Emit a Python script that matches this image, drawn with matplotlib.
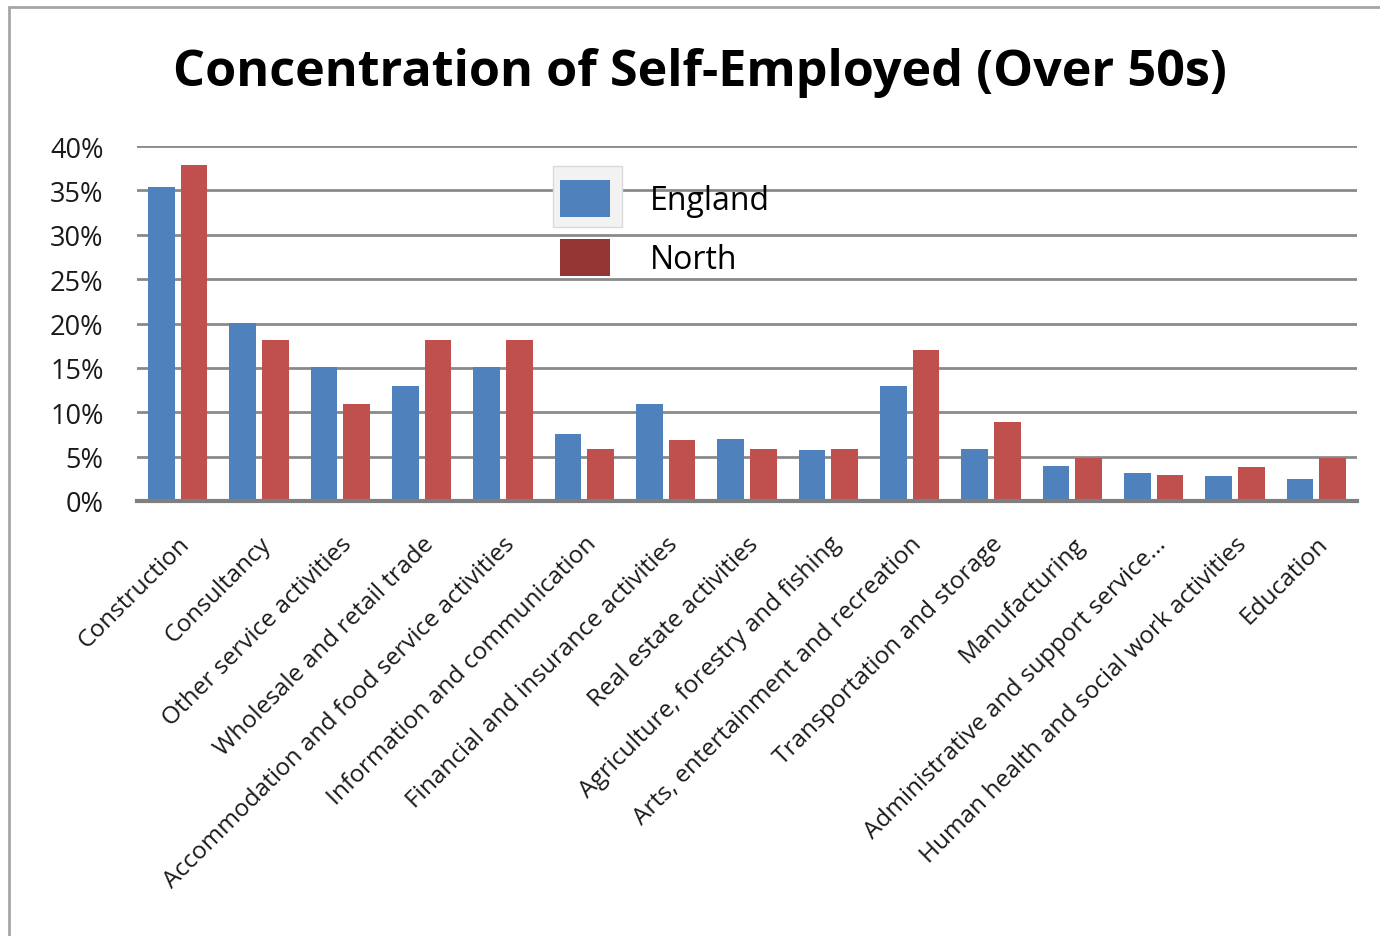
import matplotlib
matplotlib.use("Agg")
import matplotlib.pyplot as plt
from matplotlib.patches import Patch, Rectangle
import numpy as np

categories = [
    "Construction", "Consultancy", "Other service activities",
    "Wholesale and retail trade", "Accommodation and food service activities",
    "Information and communication", "Financial and insurance activities",
    "Real estate activities", "Agriculture, forestry and fishing",
    "Arts, entertainment and recreation", "Transportation and storage",
    "Manufacturing", "Administrative and support service...",
    "Human health and social work activities", "Education",
]
england = [35.4, 20.1, 15.1, 13.0, 15.1, 7.6, 10.9, 7.0, 5.8, 13.0, 5.9, 4.0, 3.2, 2.8, 2.5]
north = [37.9, 18.1, 10.9, 18.1, 18.1, 5.9, 6.9, 5.9, 5.9, 17.0, 8.9, 4.9, 2.9, 3.8, 4.9]
yticks = [0, 5, 10, 15, 20, 25, 30, 35, 40]
ytick_labels = ["0%", "5%", "10%", "15%", "20%", "25%", "30%", "35%", "40%"]
series_names = ["England", "North"]

plt.rcParams['font.family'] = ['Open Sans', 'DejaVu Sans']

W, H = 1380, 937
fig = plt.figure(figsize=(W / 100, H / 100), dpi=100)
fig.patch.set_facecolor("white")

# outer chart frame (left and top visible)
fig.patches.append(Rectangle((9 / W, -0.05), 1.2, 1 - 8 / H + 0.05,
                             transform=fig.transFigure, fill=False,
                             edgecolor="#a6a6a6", linewidth=2, clip_on=False))

ax = fig.add_axes([137 / W, (H - 502) / H, (1357 - 137) / W, (502 - 147) / H])

x = np.arange(len(categories))
bw = 0.33
blue = "#4F81BD"
red = "#C0504D"
ax.bar(x - 0.2, england, bw, color=blue, zorder=3)
ax.bar(x + 0.2, north, bw, color=red, zorder=3)

ax.set_xlim(-0.5, len(categories) - 0.5)
ax.set_ylim(0, 40)
ax.set_yticks(yticks)
ax.set_yticklabels(ytick_labels, fontsize=19.5, color="#1a1a1a")
ax.yaxis.grid(True, color="#8a8a8a", linewidth=2, zorder=0)
ax.tick_params(axis="y", length=0, pad=24)
ax.tick_params(axis="x", length=0)
for s in ["left", "right", "top"]:
    ax.spines[s].set_visible(False)
ax.spines["bottom"].set_color("#7f7f7f")
ax.spines["bottom"].set_linewidth(3)
ax.spines["bottom"].set_zorder(4)

ax.set_xticks(x)
ax.set_xticklabels(categories, rotation=45, ha="right", rotation_mode="anchor",
                   fontsize=17.6, color="#1a1a1a")
ax.tick_params(axis="x", pad=22)

ax.set_axisbelow(True)

# legend
fig.patches.append(Rectangle((553 / W, 1 - 228 / H), 69 / W, 61 / H,
                             transform=fig.transFigure, facecolor="#f2f2f2",
                             edgecolor="#d9d9d9", linewidth=1, zorder=5))
handles = [Patch(facecolor=blue, edgecolor="none"),
           Patch(facecolor="#943634", edgecolor="none")]
leg = fig.legend(handles, series_names, loc="upper left",
                 bbox_to_anchor=(544 / W, 1 - 165 / H), frameon=False,
                 fontsize=23, handlelength=1.56, handleheight=1.4,
                 labelspacing=0.7, handletextpad=1.25, borderpad=0)
leg.set_zorder(6)

fig.text(700 / W, 1 - 73 / H, "Concentration of Self-Employed (Over 50s)",
         ha="center", va="center", fontsize=36.3, fontweight="bold", color="black")

fig.savefig("out.png", dpi=100)
